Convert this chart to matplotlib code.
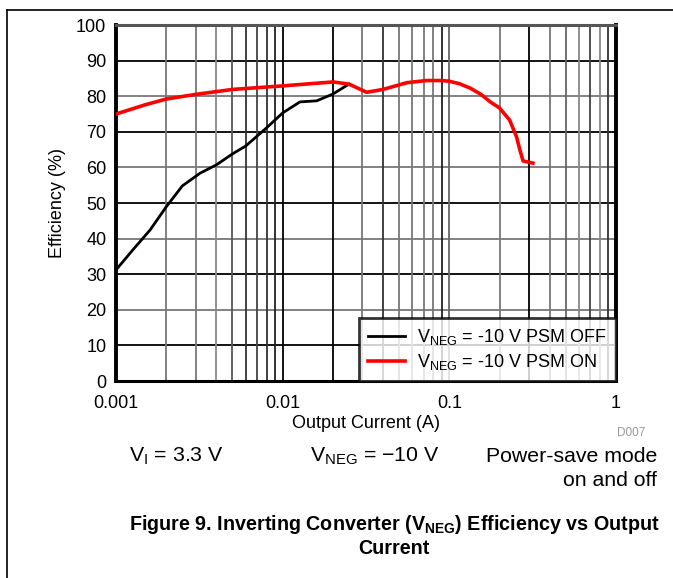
import numpy as np
import matplotlib
matplotlib.use('Agg')
import matplotlib.pyplot as plt
from matplotlib.lines import Line2D

plt.rcParams['font.family'] = ['Liberation Sans', 'DejaVu Sans']
plt.rcParams['mathtext.fontset'] = 'custom'
plt.rcParams['mathtext.rm'] = 'Liberation Sans'
plt.rcParams['mathtext.bf'] = 'Liberation Sans:bold'
plt.rcParams['mathtext.default'] = 'regular'

# PSM OFF (black)
i_off = [0.001, 0.00126, 0.0016, 0.002, 0.0025, 0.0032, 0.004, 0.005, 0.006,
         0.008, 0.01, 0.0127, 0.016, 0.02, 0.025]
eff_off = [31.2, 36.8, 42.4, 48.9, 54.8, 58.4, 60.7, 63.8, 66.0,
           71.1, 75.3, 78.4, 78.7, 80.6, 83.4]

# PSM ON (red)
i_on = [0.001, 0.0015, 0.002, 0.003, 0.005, 0.01, 0.02, 0.025, 0.0319, 0.04,
        0.0557, 0.073, 0.09, 0.1, 0.115, 0.133, 0.155, 0.176, 0.2, 0.23,
        0.253, 0.265, 0.277, 0.317]
eff_on = [75.0, 77.6, 79.2, 80.5, 81.9, 82.9, 84.0, 83.4, 81.1, 81.9,
          83.8, 84.4, 84.4, 84.2, 83.5, 82.3, 80.5, 78.4, 76.7, 73.3,
          68.6, 64.9, 61.8, 61.2]

fig = plt.figure(figsize=(6.73, 5.78), dpi=100)
ax = fig.add_axes([116/673, 197/578, 500/673, 356/578])

ax.set_xscale('log')
ax.set_xlim(0.001, 1)
ax.set_ylim(0, 100)

# grid lines (alternating shades as in the datasheet rendering)
for k, v in enumerate(range(10, 100, 10)):
    ax.axhline(v, color='black' if k % 2 == 0 else '#777777', lw=1.3, zorder=1)
xs = [m * 10.0**d for d in (-3, -2, -1) for m in range(1, 10)][1:]
shades = ['#777777', '#777777', '#888888', '#555555', '#333333', '#444444', '#333333', '#222222',
          'black', 'black', '#777777', '#333333', '#777777', '#777777', '#777777', '#777777', '#222222',
          '#666666', '#777777', 'black', '#777777', '#666666', '#888888', '#444444', '#888888', '#333333']
for x, c in zip(xs, shades):
    ax.axvline(x, color=c, lw=1.3, zorder=1)

ax.plot(i_off, eff_off, color='black', lw=2, zorder=3, label=r'V$_{NEG}$ = -10 V PSM OFF')
ax.plot(i_on, eff_on, color='#ff0000', lw=2.6, zorder=4, solid_joinstyle='round',
        label=r'V$_{NEG}$ = -10 V PSM ON')

ax.set_yticks(range(0, 101, 10))
ax.set_xticks([0.001, 0.01, 0.1, 1])
ax.set_xticklabels(['0.001', '0.01', '0.1', '1'])
ax.xaxis.set_minor_locator(matplotlib.ticker.NullLocator())
ax.tick_params(length=0, labelsize=13)
ax.tick_params(axis='x', pad=10)
ax.tick_params(axis='y', pad=7)
ax.set_xlabel('Output Current (A)', fontsize=13, labelpad=2)
ax.set_ylabel('Efficiency (%)', fontsize=13, labelpad=7)

for s in ('left', 'right'):
    ax.spines[s].set_linewidth(2.8)
ax.spines['bottom'].set_linewidth(2.2)
ax.spines['top'].set_linewidth(2.2)
ax.spines['top'].set_color('#555555')

leg = ax.legend(loc='lower right', fontsize=13, frameon=True, fancybox=False,
                borderaxespad=0, handlelength=2.0, borderpad=0.5, labelspacing=0.25,
                handletextpad=0.7)
leg.get_frame().set_edgecolor('black')
leg.get_frame().set_linewidth(2)
leg.set_zorder(10)

fig.text(645/673, 1 - 433/578, 'D007', color='#999999', fontsize=8.5, ha='right', va='center')
fig.text(176/673, 1 - 456/578, r'V$_{I}$ = 3.3 V', fontsize=15.3, ha='center', va='center')
fig.text(375/673, 1 - 456/578, r'V$_{NEG}$ = $-$10 V', fontsize=15.3, ha='center', va='center')
fig.text(657/673, 1 - 456/578, 'Power-save mode', fontsize=15.3, ha='right', va='center')
fig.text(657/673, 1 - 480/578, 'on and off', fontsize=15.3, ha='right', va='center')
fig.text(394/673, 1 - 524/578, r'Figure 9. Inverting Converter (V$_{\mathbf{NEG}}$) Efficiency vs Output',
         fontsize=14.2, fontweight='bold', ha='center', va='center')
fig.text(394/673, 1 - 549/578, 'Current', fontsize=14.2, fontweight='bold', ha='center', va='center')

# page frame
fig.add_artist(Line2D([7/673, 1], [1 - 10/578, 1 - 10/578], color='black', lw=1.2))
fig.add_artist(Line2D([7/673, 7/673], [0, 1 - 10/578], color='black', lw=1.2))

fig.savefig('out.png', dpi=100)
